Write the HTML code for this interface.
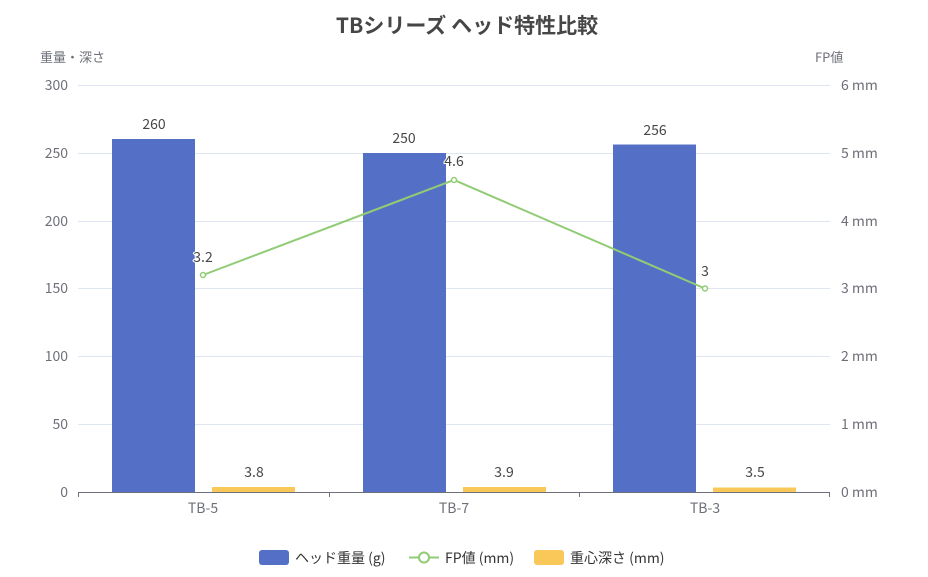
<!DOCTYPE html>
<html><head><meta charset="utf-8"><style>
html,body{margin:0;padding:0;background:#fff;}
svg{display:block;font-family:"Noto Sans CJK JP","Liberation Sans",sans-serif;}
</style></head><body>
<svg width="928" height="577" viewBox="0 0 928 577" xmlns="http://www.w3.org/2000/svg">
<text x="467" y="33" text-anchor="middle" font-size="21" font-weight="bold" fill="#464646">TBシリーズ ヘッド特性比較</text>
<text x="40" y="62" font-size="13" fill="#6e7079">重量・深さ</text>
<text x="815" y="62" font-size="13" fill="#6e7079">FP値</text>
<g stroke="#e0e6f1" stroke-width="1">
<line x1="78" y1="85.5" x2="830" y2="85.5"/>
<line x1="78" y1="153.5" x2="830" y2="153.5"/>
<line x1="78" y1="221.5" x2="830" y2="221.5"/>
<line x1="78" y1="288.5" x2="830" y2="288.5"/>
<line x1="78" y1="356.5" x2="830" y2="356.5"/>
<line x1="78" y1="424.5" x2="830" y2="424.5"/>
</g>
<g font-size="14" fill="#6e7079" text-anchor="end">
<text x="68" y="90">300</text><text x="68" y="158">250</text><text x="68" y="226">200</text>
<text x="68" y="293">150</text><text x="68" y="361">100</text><text x="68" y="429">50</text><text x="68" y="497">0</text>
</g>
<g font-size="14" fill="#6e7079">
<text x="841" y="90">6 mm</text><text x="841" y="158">5 mm</text><text x="841" y="226">4 mm</text>
<text x="841" y="293">3 mm</text><text x="841" y="361">2 mm</text><text x="841" y="429">1 mm</text><text x="841" y="497">0 mm</text>
</g>
<g fill="#5470c6">
<rect x="112" y="139" width="83" height="353"/>
<rect x="363" y="153" width="83" height="339"/>
<rect x="613" y="144.5" width="83" height="347.5"/>
</g>
<g fill="#fac858">
<rect x="212" y="487" width="83" height="5"/>
<rect x="463" y="487" width="83" height="5"/>
<rect x="713" y="487.5" width="83" height="4.5"/>
</g>
<line x1="78" y1="492.5" x2="830" y2="492.5" stroke="#6e7079"/>
<g stroke="#6e7079"><line x1="78.5" y1="492" x2="78.5" y2="497"/><line x1="329.5" y1="492" x2="329.5" y2="497"/><line x1="579.5" y1="492" x2="579.5" y2="497"/><line x1="829.5" y1="492" x2="829.5" y2="497"/></g>
<g font-size="14" fill="#6e7079" text-anchor="middle">
<text x="203" y="513">TB-5</text><text x="454" y="513">TB-7</text><text x="705" y="513">TB-3</text>
</g>
<polyline points="203,275 454,180 705,288.5" fill="none" stroke="#91cc75" stroke-width="2"/>
<g fill="#fff" stroke="#91cc75" stroke-width="1.5">
<circle cx="203" cy="275" r="2.5"/><circle cx="454" cy="180" r="2.5"/><circle cx="705" cy="288.5" r="2.5"/>
</g>
<g font-size="14" fill="#464646" text-anchor="middle" stroke="#fff" stroke-width="2" paint-order="stroke">
<text x="154" y="129">260</text><text x="404" y="143">250</text><text x="655" y="135">256</text>
<text x="254" y="477">3.8</text><text x="504" y="477">3.9</text><text x="755" y="477">3.5</text>
<text x="203" y="262">3.2</text><text x="454" y="166">4.6</text><text x="705" y="276">3</text>
</g>
<rect x="259" y="550" width="30" height="15" rx="3" fill="#5470c6"/>
<text x="295" y="563" font-size="14" fill="#333">ヘッド重量 (g)</text>
<line x1="409" y1="557.5" x2="439" y2="557.5" stroke="#91cc75" stroke-width="2"/>
<circle cx="424" cy="557.5" r="5" fill="#fff" stroke="#91cc75" stroke-width="2"/>
<text x="445" y="563" font-size="14" fill="#333">FP値 (mm)</text>
<rect x="534" y="550" width="30" height="15" rx="3" fill="#fac858"/>
<text x="570" y="563" font-size="14" fill="#333">重心深さ (mm)</text>
</svg>
</body></html>
